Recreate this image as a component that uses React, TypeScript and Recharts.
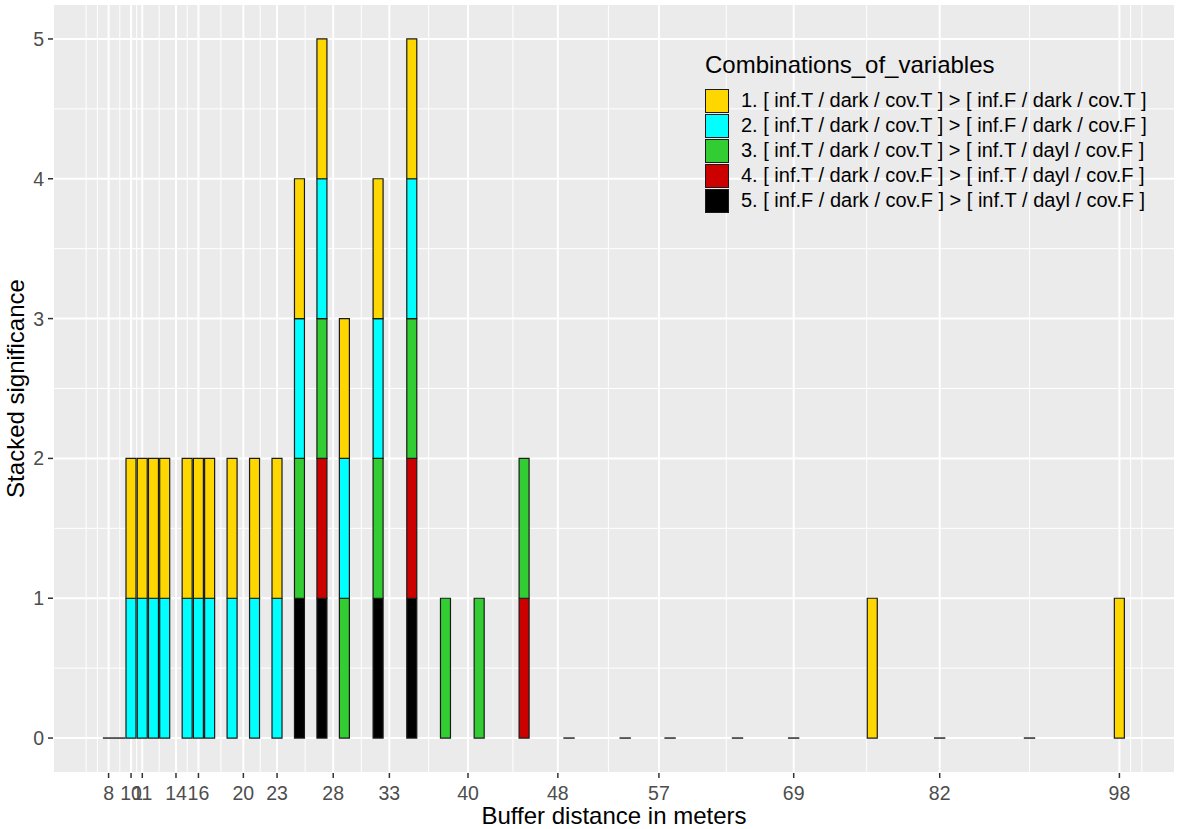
import { BarChart, Bar, XAxis, YAxis, CartesianGrid } from 'recharts';

// buffer distances (m) and the significant combinations found at each one
const distances = [8, 9, 10, 11, 12, 13, 15, 16, 17, 19, 21, 23, 25, 27, 29, 32, 35, 38, 41, 45, 49, 54, 58, 64, 69, 76, 82, 90, 98];
const combo1 = [0, 0, 1, 1, 1, 1, 1, 1, 1, 1, 1, 1, 1, 1, 1, 1, 1, 0, 0, 0, 0, 0, 0, 0, 0, 1, 0, 0, 1];
const combo2 = [0, 0, 1, 1, 1, 1, 1, 1, 1, 1, 1, 1, 1, 1, 1, 1, 1, 0, 0, 0, 0, 0, 0, 0, 0, 0, 0, 0, 0];
const combo3 = [0, 0, 0, 0, 0, 0, 0, 0, 0, 0, 0, 0, 1, 1, 1, 1, 1, 1, 1, 1, 0, 0, 0, 0, 0, 0, 0, 0, 0];
const combo4 = [0, 0, 0, 0, 0, 0, 0, 0, 0, 0, 0, 0, 0, 1, 0, 0, 1, 0, 0, 1, 0, 0, 0, 0, 0, 0, 0, 0, 0];
const combo5 = [0, 0, 0, 0, 0, 0, 0, 0, 0, 0, 0, 0, 1, 1, 0, 1, 1, 0, 0, 0, 0, 0, 0, 0, 0, 0, 0, 0, 0];

const xTicks = [8, 10, 11, 14, 16, 20, 23, 28, 33, 40, 48, 57, 69, 82, 98];
const xMinor = [6, 7, 9, 10.5, 12.5, 15, 18, 21.5, 25.5, 30.5, 36.5, 44, 52.5, 63, 75.5, 90, 99, 100];
const yTicks = [0, 1, 2, 3, 4, 5];
const yMinor = [0.5, 1.5, 2.5, 3.5, 4.5];

const legendLabels = [
  '1. [ inf.T / dark / cov.T ] > [ inf.F / dark / cov.T ]',
  '2. [ inf.T / dark / cov.T ] > [ inf.F / dark / cov.F ]',
  '3. [ inf.T / dark / cov.T ] > [ inf.T / dayl / cov.F ]',
  '4. [ inf.T / dark / cov.F ] > [ inf.T / dayl / cov.F ]',
  '5. [ inf.F / dark / cov.F ] > [ inf.T / dayl / cov.F ]',
];
const colors = ['#FFD700', '#00FFFF', '#32CD32', '#CD0000', '#000000'];

const rows = distances.map((x, i) => {
  const total = combo1[i] + combo2[i] + combo3[i] + combo4[i] + combo5[i];
  return {
    x,
    c1: combo1[i],
    c2: combo2[i],
    c3: combo3[i],
    c4: combo4[i],
    c5: combo5[i],
    zero: total === 0 ? 0 : null,
  };
});

const FONT = '"Liberation Sans", Arial, sans-serif';
const OUTLINE = '#1a1a1a';

// ggplot draws zero-height bars as a flat outline
const ZeroDash = (props: any) => {
  const { x, y, width, payload } = props;
  if (!payload || payload.zero !== 0) return null;
  return <line x1={x - 0.7} x2={x + width + 0.7} y1={y} y2={y} stroke={OUTLINE} strokeWidth={1.4} />;
};

export default function App() {
  return (
    <div style={{ position: 'absolute', left: 0, top: 0, width: 1178, height: 829, background: '#fff', fontFamily: FONT }}>
      <BarChart
        width={1178}
        height={829}
        data={rows}
        margin={{ top: 4, right: 3, left: 0, bottom: 0 }}
        barCategoryGap="5%"
      >
        <CartesianGrid
          fill="#EBEBEB"
          fillOpacity={1}
          stroke="#ffffff"
          strokeWidth={1}
          verticalValues={xMinor}
          horizontalValues={yMinor}
        />
        <CartesianGrid stroke="#ffffff" strokeWidth={2} />
        <XAxis
          dataKey="x"
          type="number"
          domain={[3.05, 102.95]}
          ticks={xTicks}
          interval={0}
          axisLine={false}
          tickSize={5}
          tickMargin={8}
          tickLine={{ stroke: '#333333', strokeWidth: 1.5 }}
          tick={{ fill: '#4D4D4D', fontSize: 19.5, fontFamily: FONT }}
          height={56}
          label={{
            value: 'Buffer distance in meters',
            position: 'insideBottom',
            offset: 5,
            style: { fill: '#000', fontSize: 24, fontFamily: FONT },
          }}
        />
        <YAxis
          type="number"
          domain={[-0.25, 5.25]}
          ticks={yTicks}
          interval={0}
          axisLine={false}
          tickSize={5}
          tickMargin={4}
          tickLine={{ stroke: '#333333', strokeWidth: 1.5 }}
          tick={{ fill: '#4D4D4D', fontSize: 19.5, fontFamily: FONT }}
          width={53}
          label={{
            value: 'Stacked significance',
            angle: -90,
            position: 'insideLeft',
            offset: 15,
            style: { fill: '#000', fontSize: 24, fontFamily: FONT, textAnchor: 'middle' },
          }}
        />
        <Bar dataKey="zero" stackId="a" shape={ZeroDash} isAnimationActive={false} />
        <Bar dataKey="c5" stackId="a" fill={colors[4]} stroke={OUTLINE} strokeWidth={1.2} isAnimationActive={false} />
        <Bar dataKey="c4" stackId="a" fill={colors[3]} stroke={OUTLINE} strokeWidth={1.2} isAnimationActive={false} />
        <Bar dataKey="c3" stackId="a" fill={colors[2]} stroke={OUTLINE} strokeWidth={1.2} isAnimationActive={false} />
        <Bar dataKey="c2" stackId="a" fill={colors[1]} stroke={OUTLINE} strokeWidth={1.2} isAnimationActive={false} />
        <Bar dataKey="c1" stackId="a" fill={colors[0]} stroke={OUTLINE} strokeWidth={1.2} isAnimationActive={false} />
      </BarChart>

      <div style={{ position: 'absolute', left: 705, top: 53 }}>
        <div style={{ fontSize: 24, lineHeight: '23px', color: '#000', whiteSpace: 'nowrap' }}>Combinations_of_variables</div>
        <div style={{ marginTop: 12 }}>
          {legendLabels.map((lab, i) => (
            <div key={lab} style={{ display: 'flex', alignItems: 'center', height: 25 }}>
              <div
                style={{
                  width: 24,
                  height: 24,
                  boxSizing: 'border-box',
                  background: colors[i],
                  border: `1px solid ${OUTLINE}`,
                }}
              />
              <div style={{ marginLeft: 12, fontSize: 20, lineHeight: '25px', color: '#000', whiteSpace: 'nowrap' }}>{lab}</div>
            </div>
          ))}
        </div>
      </div>
    </div>
  );
}
